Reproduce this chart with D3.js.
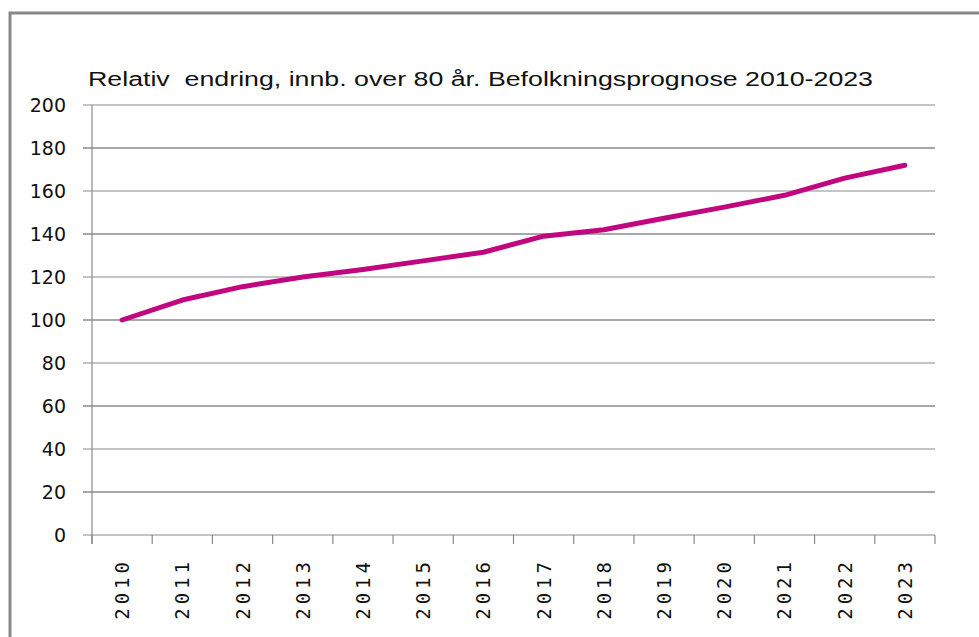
<!DOCTYPE html>
<html>
<head>
<meta charset="utf-8">
<script src="https://cdn.jsdelivr.net/npm/d3@7"></script>
<style>
  body { margin: 0; background: #fff; }
</style>
</head>
<body>
<svg width="979" height="637"></svg>
<script>
const years = ["2010","2011","2012","2013","2014","2015","2016","2017","2018","2019","2020","2021","2022","2023"];
const values = [100, 109.3, 115.5, 120, 123.5, 127.5, 131.5, 139, 142, 147.3, 152.5, 158, 166, 172];
const yTicks = [0, 20, 40, 60, 80, 100, 120, 140, 160, 180, 200];
const title = "Relativ  endring, innb. over 80 år. Befolkningsprognose 2010-2023";

const svg = d3.select("svg");
const margin = ({top: 105, right: 44, bottom: 102, left: 92});
const width = 979;
const height = 637;

// outer frame (left + top edges visible)
svg.append("path")
    .attr("d", "M10,637 V13 H979")
    .attr("fill", "none")
    .attr("stroke", "#888")
    .attr("stroke-width", 3);

const x = d3.scaleBand()
    .domain(years)
    .range([margin.left, width - margin.right]);

const y = d3.scaleLinear()
    .domain([0, 200])
    .range([height - margin.bottom, margin.top]);

// gridlines
svg.append("g")
  .selectAll("line")
  .data(yTicks)
  .join("line")
    .attr("x1", margin.left - 9)
    .attr("x2", width - margin.right)
    .attr("y1", d => y(d))
    .attr("y2", d => y(d))
    .attr("stroke", "#8a8a8a")
    .attr("stroke-width", d => d % 40 === 0 ? 1.2 : 1.6);

// y axis line
svg.append("line")
    .attr("x1", margin.left).attr("x2", margin.left)
    .attr("y1", y(200)).attr("y2", y(0) + 9)
    .attr("stroke", "#8a8a8a")
    .attr("stroke-width", 1.2);

// y labels
svg.append("g")
  .selectAll("text")
  .data(yTicks)
  .join("text")
    .attr("x", 66)
    .attr("y", d => y(d) + 7)
    .attr("text-anchor", "end")
    .attr("font-family", "DejaVu Sans, sans-serif")
    .attr("font-size", 19)
    .attr("fill", "#111")
    .text(d => d);

// x tick marks at band edges
const edges = years.map(d => x(d)).concat([x(years[years.length - 1]) + x.bandwidth()]);
svg.append("g")
  .selectAll("line")
  .data(edges)
  .join("line")
    .attr("x1", d => d).attr("x2", d => d)
    .attr("y1", y(0)).attr("y2", y(0) + 9)
    .attr("stroke", "#8a8a8a")
    .attr("stroke-width", 1.2);

// x labels
svg.append("g")
  .selectAll("text")
  .data(years)
  .join("text")
    .attr("transform", d => `translate(${x(d) + x.bandwidth() / 2 + 7},558) rotate(-90)`)
    .attr("text-anchor", "end")
    .attr("font-family", "DejaVu Sans Mono, monospace")
    .attr("font-size", 19)
    .attr("letter-spacing", 4)
    .attr("fill", "#111")
    .text(d => d);

// line
const line = d3.line()
    .x((d, i) => x(years[i]) + x.bandwidth() / 2)
    .y(d => y(d));

svg.append("path")
    .datum(values)
    .attr("d", line)
    .attr("fill", "none")
    .attr("stroke", "#c0077f")
    .attr("stroke-width", 5)
    .attr("stroke-linecap", "round")
    .attr("stroke-linejoin", "round");

// title
svg.append("text")
    .attr("x", 88)
    .attr("y", 86)
    .attr("font-family", "Liberation Sans, Arial, sans-serif")
    .attr("font-size", 20)
    .attr("fill", "#111")
    .attr("textLength", 785)
    .attr("lengthAdjust", "spacingAndGlyphs")
    .style("white-space", "pre")
    .text(title);
</script>
</body>
</html>
